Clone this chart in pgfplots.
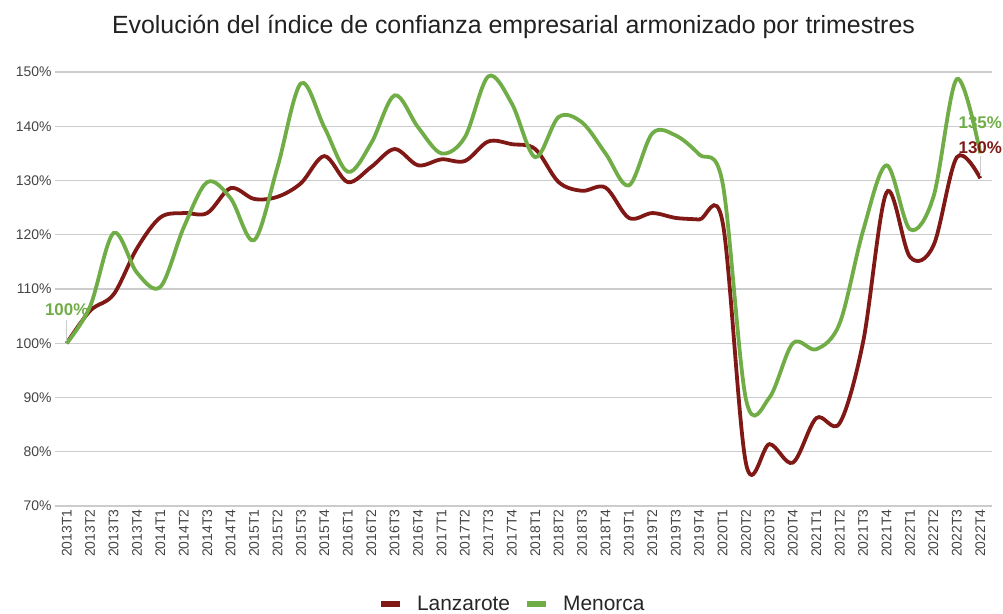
\documentclass[border=0pt]{standalone}
\usepackage{pgfplots}
\pgfplotsset{compat=1.18}
\usepackage{fontspec}
\setmainfont{Liberation Sans}
\definecolor{lzred}{RGB}{128,24,22}
\definecolor{mngreen}{RGB}{112,173,71}
\definecolor{gridgray}{RGB}{204,204,204}
\definecolor{ticktext}{RGB}{68,68,68}
\begin{document}
\begin{tikzpicture}
\begin{axis}[
  at={(55bp,108bp)}, anchor=south west,
  scale only axis, width=937bp, height=434bp,
  xmin=-0.5, xmax=39.5, ymin=70, ymax=150,
  clip mode=individual,
  ytick={70,80,...,150},
  yticklabel={\pgfmathprintnumber{\tick}\%},
  /pgf/number format/assume math mode=true,
  xtick={0,...,39},
  xticklabels={2013T1,2013T2,2013T3,2013T4,2014T1,2014T2,2014T3,2014T4,2015T1,2015T2,2015T3,2015T4,2016T1,2016T2,2016T3,2016T4,2017T1,2017T2,2017T3,2017T4,2018T1,2018T2,2018T3,2018T4,2019T1,2019T2,2019T3,2019T4,2020T1,2020T2,2020T3,2020T4,2021T1,2021T2,2021T3,2021T4,2022T1,2022T2,2022T3,2022T4},
  xticklabel style={rotate=90, anchor=east, font=\fontsize{14}{16}\selectfont, text=ticktext},
  yticklabel style={font=\fontsize{14}{16}\selectfont, text=ticktext},
  major tick length=0pt,
  axis line style={draw=none},
  ymajorgrids, grid style={gridgray, line width=1.2bp},
  legend style={at={(0.488,-0.226)}, anchor=center, draw=none, font=\fontsize{21}{24}\selectfont, text=black!85, column sep=12bp},
  legend columns=2,
  legend image code/.code={\draw[#1, line width=6bp, line cap=butt] (0bp,0bp) -- (19bp,0bp);},
]
\addplot[lzred, line width=3.8bp, smooth, tension=0.55] coordinates {
(0,100) (1,106) (2,109) (3,117.5) (4,123.2) (5,124) (6,124) (7,128.6) (8,126.6) (9,127)
(10,129.5) (11,134.5) (12,129.7) (13,132.5) (14,135.8) (15,132.8) (16,133.9) (17,133.6) (18,137.2) (19,136.7)
(20,135.8) (21,129.7) (22,128.1) (23,128.7) (24,123.1) (25,124) (26,123.1) (27,122.8) (28,122.3) (29,77.8)
(30,81.4) (31,78) (32,86.2) (33,85.3) (34,100.3) (35,127.8) (36,115.9) (37,118) (38,134.3) (39,130.4)
};
\addlegendentry{Lanzarote}
\addplot[mngreen, line width=3.8bp, smooth, tension=0.55] coordinates {
(0,100) (1,106.8) (2,120.3) (3,113) (4,110.4) (5,121.4) (6,129.7) (7,126.7) (8,119) (9,132.5)
(10,147.9) (11,139.8) (12,131.6) (13,136.9) (14,145.7) (15,139.8) (16,135) (17,138) (18,149.2) (19,144.2)
(20,134.3) (21,141.7) (22,140.7) (23,135) (24,129.1) (25,138.7) (26,138.3) (27,134.8) (28,129.5) (29,89.6)
(30,90) (31,100) (32,98.9) (33,103.7) (34,120.8) (35,132.8) (36,121) (37,127) (38,148.7) (39,135)
};
\addlegendentry{Menorca}
\draw[gridgray, line width=0.6bp] (axis cs:0,100.4) -- (axis cs:0,104.3);
\draw[gridgray, line width=0.6bp] (axis cs:39,130.8) -- (axis cs:39,134.6);
\node[font=\bfseries\fontsize{17}{19}\selectfont, text=mngreen] at (axis cs:0,106.1) {100\%};
\node[font=\bfseries\fontsize{17}{19}\selectfont, text=mngreen] at (axis cs:39,140.7) {135\%};
\node[font=\bfseries\fontsize{17}{19}\selectfont, text=lzred] at (axis cs:39,136.1) {130\%};
\end{axis}
\node[font=\fontsize{25}{29}\selectfont, text=black!87] at (513.5bp,587bp) {Evolución del índice de confianza empresarial armonizado por trimestres};
\pgfresetboundingbox
\path (0bp,0bp) rectangle (1003bp,614bp);
\end{tikzpicture}
\end{document}
